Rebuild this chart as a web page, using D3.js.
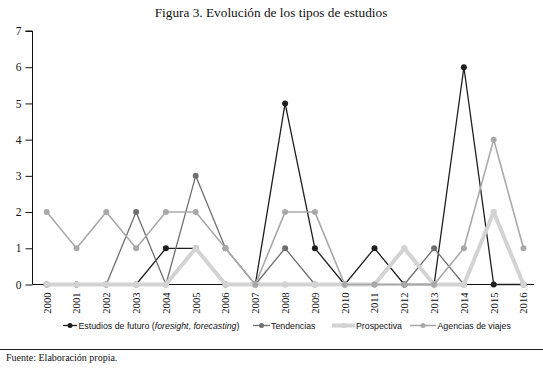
<!DOCTYPE html>
<html><head><meta charset="utf-8">
<script src="https://cdn.jsdelivr.net/npm/d3@7"></script>
<style>html,body{margin:0;padding:0;background:#fff;}svg{display:block;}</style>
</head><body>
<svg id="c" width="543" height="369"></svg>
<script>
const years = ["2000","2001","2002","2003","2004","2005","2006","2007","2008","2009","2010","2011","2012","2013","2014","2015","2016"];
const estudiosFuturo = [0,0,0,0,1,1,0,0,5,1,0,1,0,0,6,0,0];
const tendencias = [0,0,0,2,0,3,1,0,1,0,0,0,0,1,0,null,null];
const prospectiva = [0,0,0,0,0,1,0,0,0,0,0,0,1,0,0,2,0];
const agenciasViajes = [2,1,2,1,2,2,1,0,2,2,0,0,0,0,1,4,1];
const yTicks = [0,1,2,3,4,5,6,7];
const seriesNames = ["Estudios de futuro","Tendencias","Prospectiva","Agencias de viajes"];

const series = [
  {name: seriesNames[0], values: estudiosFuturo, color: "#1e1e1e", width: 1.3, r: 3},
  {name: seriesNames[1], values: tendencias, color: "#6f6f6f", width: 1.3, r: 3},
  {name: seriesNames[2], values: prospectiva, color: "#d3d3d3", width: 4, r: 3.2},
  {name: seriesNames[3], values: agenciasViajes, color: "#a9a9a9", width: 1.6, r: 3}
];

const svg = d3.select("#c");
const serif = "'Liberation Serif','Times New Roman',serif";
const sans = "'Liberation Sans',Arial,sans-serif";

const x = d3.scaleBand().domain(years).range([31.8, 538.4]);
const y = d3.scaleLinear().domain([0, 7]).range([284.5, 31]);
const cx = d => x(d) + x.bandwidth() / 2;

svg.append("text").attr("x", 271).attr("y", 17).attr("text-anchor", "middle")
  .attr("font-family", serif).attr("font-size", 13.3).attr("fill", "#111")
  .text("Figura 3. Evolución de los tipos de estudios");

// y axis
const yAxis = svg.append("g").attr("transform", "translate(32.5,0)")
  .call(d3.axisLeft(y).tickValues(yTicks).tickSize(7).tickPadding(4).tickFormat(d3.format("d")));
yAxis.select(".domain").attr("stroke", "#111").attr("d", `M-7,${y(7)}H0V${y(0)}`);
yAxis.selectAll(".tick line").attr("stroke", "#111");
yAxis.selectAll("text").attr("font-family", serif).attr("font-size", 11.5).attr("fill", "#111");

// x axis
const xAxis = svg.append("g").attr("transform", `translate(0,${y(0)})`)
  .call(d3.axisBottom(x).tickSize(0).tickPadding(0));
xAxis.select(".domain").attr("stroke", "#111").attr("d", `M32.5,0H534`);
xAxis.selectAll(".tick text")
  .attr("font-family", serif).attr("font-size", 10.6).attr("fill", "#111")
  .attr("text-anchor", "end").attr("dy", null)
  .attr("transform", "translate(3.8,8) rotate(-90)");

const line = d3.line().defined(d => d.v !== null).x(d => cx(d.year)).y(d => y(d.v));

series.forEach(s => {
  const pts = years.map((yr, i) => ({year: yr, v: s.values[i]}));
  const g = svg.append("g");
  g.append("path").datum(pts).attr("d", line).attr("fill", "none")
    .attr("stroke", s.color).attr("stroke-width", s.width).attr("stroke-linejoin", "round");
  g.selectAll("circle").data(pts.filter(d => d.v !== null)).join("circle")
    .attr("cx", d => cx(d.year)).attr("cy", d => y(d.v)).attr("r", s.r).attr("fill", s.color);
});

// legend
const legend = [
  {x0: 63, x1: 77, tx: 78.5},
  {x0: 253, x1: 270, tx: 271},
  {x0: 332, x1: 355, tx: 356},
  {x0: 410, x1: 436, tx: 437.5}
];
const ly = 325.5;
series.forEach((s, i) => {
  const L = legend[i];
  svg.append("line").attr("x1", L.x0).attr("x2", L.x1).attr("y1", ly).attr("y2", ly)
    .attr("stroke", s.color).attr("stroke-width", s.width);
  svg.append("circle").attr("cx", (L.x0 + L.x1) / 2).attr("cy", ly).attr("r", s.r - 0.5).attr("fill", s.color);
  const t = svg.append("text").attr("x", L.tx).attr("y", ly + 3.2)
    .attr("font-family", sans).attr("font-size", 8.8).attr("fill", "#111");
  if (i === 0) {
    t.append("tspan").text("Estudios de futuro (");
    t.append("tspan").attr("font-style", "italic").text("foresight");
    t.append("tspan").text(", ");
    t.append("tspan").attr("font-style", "italic").text("forecasting");
    t.append("tspan").text(")");
  } else {
    t.text(s.name);
  }
});

svg.append("line").attr("x1", 0).attr("x2", 543).attr("y1", 349.5).attr("y2", 349.5)
  .attr("stroke", "#222").attr("stroke-width", 1);
svg.append("text").attr("x", 6).attr("y", 361).attr("font-family", serif)
  .attr("font-size", 10).attr("fill", "#111").text("Fuente: Elaboración propia.");
</script>
</body></html>
